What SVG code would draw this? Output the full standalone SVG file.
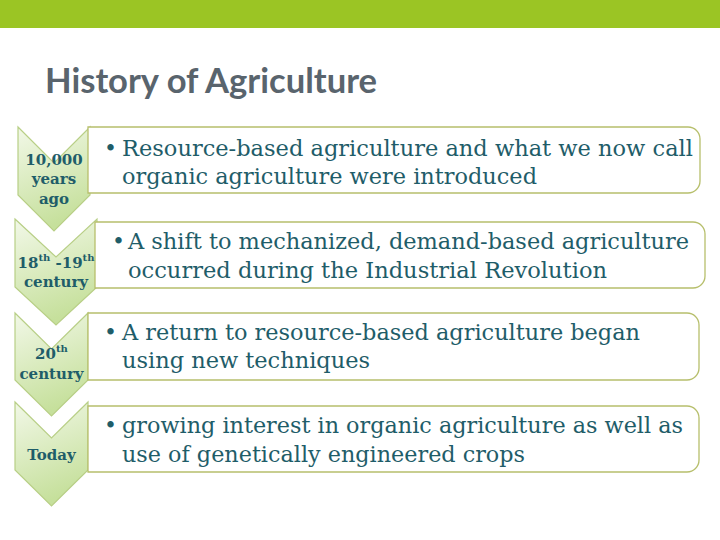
<svg xmlns="http://www.w3.org/2000/svg" width="720" height="540" viewBox="0 0 720 540">
<defs>
<linearGradient id="chev" x1="0" y1="0" x2="0.3" y2="1">
<stop offset="0" stop-color="#f2f8e8"/>
<stop offset="1" stop-color="#c6e09c"/>
</linearGradient>
<style>
.chev{fill:url(#chev);stroke:#b8cf86;stroke-width:1.2}
.box{fill:#ffffff;stroke:#b7bf6c;stroke-width:1.3}
.lbl{font-family:"DejaVu Serif","Liberation Serif",serif;font-weight:bold;font-size:15px;fill:#1f5d69;text-anchor:middle}
.txt{font-family:"DejaVu Serif","Liberation Serif",serif;font-size:22px;fill:#1f5d69}
.sup{font-size:10px}
.title{font-family:Lato,"Liberation Sans",sans-serif;font-weight:bold;font-size:35px;fill:#59646d}
</style>
</defs>
<rect x="0" y="0" width="720" height="28" fill="#9bc524"/>
<text class="title" x="45" y="93" textLength="332" lengthAdjust="spacingAndGlyphs">History of Agriculture</text>

<g id="step1">
<path class="chev" d="M18,127 L54,163 L90,127 L90,195 L54,231 L18,195 Z"/>
<path class="box" d="M88,127 H688 A12,12 0 0 1 700,139 V181 A12,12 0 0 1 688,193 H88 Z"/>
<text class="lbl" x="54" y="165">10,000</text>
<text class="lbl" x="54" y="184">years</text>
<text class="lbl" x="54" y="204">ago</text>
<text class="txt" x="104" y="156">•</text>
<text class="txt" x="122" y="156" textLength="571" lengthAdjust="spacingAndGlyphs">Resource-based agriculture and what we now call</text>
<text class="txt" x="122" y="184" textLength="415" lengthAdjust="spacingAndGlyphs">organic agriculture were introduced</text>
</g>

<g id="step2">
<path class="chev" d="M15,219 L56,257 L97,219 L97,287 L56,325 L15,287 Z"/>
<path class="box" d="M95,222 H693 A12,12 0 0 1 705,234 V276 A12,12 0 0 1 693,288 H95 Z"/>
<text class="lbl" x="56" y="268">18<tspan class="sup" dy="-7">th</tspan><tspan dy="7"> -19</tspan><tspan class="sup" dy="-7">th</tspan></text>
<text class="lbl" x="56" y="287">century</text>
<text class="txt" x="112" y="249">•</text>
<text class="txt" x="128" y="249" textLength="561" lengthAdjust="spacingAndGlyphs">A shift to mechanized, demand-based agriculture</text>
<text class="txt" x="128" y="278" textLength="479" lengthAdjust="spacingAndGlyphs">occurred during the Industrial Revolution</text>
</g>

<g id="step3">
<path class="chev" d="M15,313 L51.5,349 L88,313 L88,380 L51.5,416 L15,380 Z"/>
<path class="box" d="M88,313 H687 A12,12 0 0 1 699,325 V368 A12,12 0 0 1 687,380 H88 Z"/>
<text class="lbl" x="51.5" y="359">20<tspan class="sup" dy="-7">th</tspan></text>
<text class="lbl" x="51.5" y="379">century</text>
<text class="txt" x="104" y="340">•</text>
<text class="txt" x="122" y="340" textLength="518" lengthAdjust="spacingAndGlyphs">A return to resource-based agriculture began</text>
<text class="txt" x="122" y="368" textLength="248" lengthAdjust="spacingAndGlyphs">using new techniques</text>
</g>

<g id="step4">
<path class="chev" d="M15,402 L51.5,438 L88,402 L88,470 L51.5,506 L15,470 Z"/>
<path class="box" d="M88,406 H687 A12,12 0 0 1 699,418 V460 A12,12 0 0 1 687,472 H88 Z"/>
<text class="lbl" x="51.5" y="460">Today</text>
<text class="txt" x="104" y="433">•</text>
<text class="txt" x="122" y="433" textLength="561" lengthAdjust="spacingAndGlyphs">growing interest in organic agriculture as well as</text>
<text class="txt" x="122" y="462" textLength="403" lengthAdjust="spacingAndGlyphs">use of genetically engineered crops</text>
</g>
<g id="connectors"/>
</svg>
